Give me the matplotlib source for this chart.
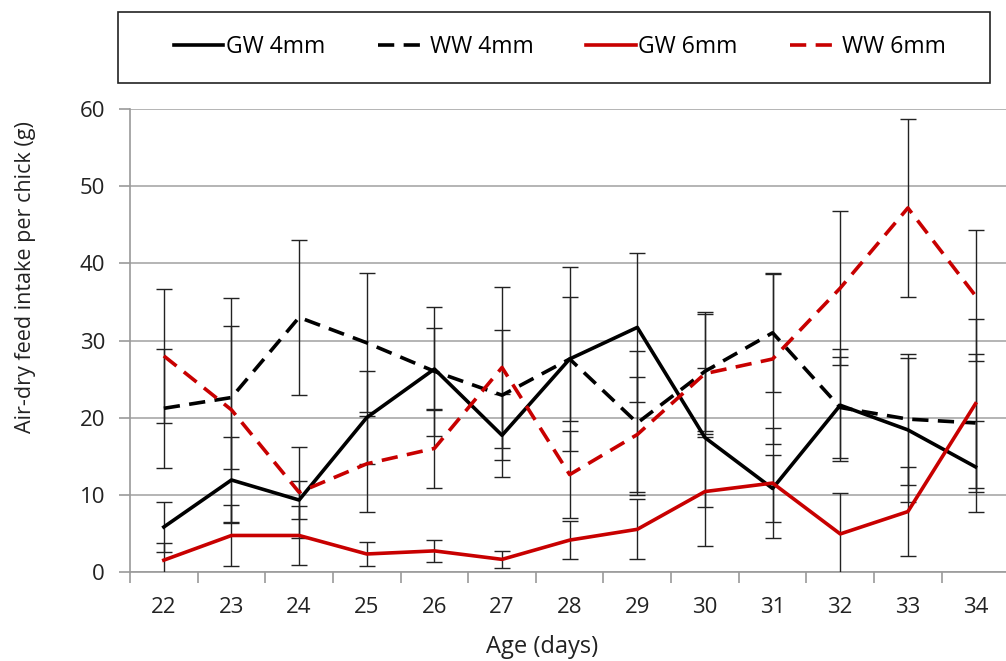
import matplotlib
matplotlib.use("Agg")
import matplotlib.pyplot as plt
from matplotlib.patches import Rectangle

plt.rcParams['font.family'] = ['Open Sans', 'DejaVu Sans']

ages = [22, 23, 24, 25, 26, 27, 28, 29, 30, 31, 32, 33, 34]
gw4 = [5.8, 11.9, 9.3, 20.0, 26.3, 17.7, 27.6, 31.7, 17.4, 10.8, 21.6, 18.4, 13.6]
gw4_err = [3.2, 5.6, 2.5, 6.0, 5.3, 5.4, 12.0, 9.7, 9.0, 4.4, 7.3, 9.3, 5.9]
ww4 = [21.2, 22.6, 33.0, 29.7, 26.0, 22.9, 27.6, 19.3, 26.0, 31.0, 21.3, 19.8, 19.3]
ww4_err = [7.7, 9.3, 10.1, 9.0, 8.4, 8.4, 8.0, 9.4, 7.7, 7.7, 6.6, 8.5, 9.0]
gw6 = [1.5, 4.7, 4.7, 2.3, 2.7, 1.6, 4.1, 5.5, 10.4, 11.5, 4.9, 7.8, 21.8]
gw6_err = [2.2, 4.0, 3.8, 1.6, 1.4, 1.1, 2.5, 3.9, 7.1, 7.1, 5.3, 5.8, 11.0]
ww6 = [28.0, 21.0, 10.3, 14.0, 16.0, 26.5, 12.6, 17.8, 25.7, 27.6, 36.8, 47.2, 35.8]
ww6_err = [8.7, 14.5, 5.9, 6.2, 5.1, 10.5, 5.6, 7.5, 7.8, 11.0, 10.0, 11.5, 8.5]

labels = ["GW 4mm", "WW 4mm", "GW 6mm", "WW 6mm"]
RED = "#c80000"
TXT = "#222222"

W, H = 1006, 661
fig = plt.figure(figsize=(W / 100, H / 100), dpi=100)
left, right, top, bottom = 130, 1006, 109.3, 571.7
ax = fig.add_axes([left / W, 1 - bottom / H, (right - left) / W, (bottom - top) / H])

series = [
    (gw4, gw4_err, "black", "-"),
    (ww4, ww4_err, "black", "--"),
    (gw6, gw6_err, RED, "-"),
    (ww6, ww6_err, RED, "--"),
]
handles = []
for (vals, err, col, ls), lab in zip(series, labels):
    ax.errorbar(ages, vals, yerr=err, fmt="none", ecolor="#222222",
                elinewidth=1.0, capsize=6, capthick=1.0, zorder=3)
    line, = ax.plot(ages, vals, color=col, lw=2.6, linestyle=ls, label=lab, zorder=4)
    if ls == "--":
        line.set_dashes((4.5, 2.6))
    handles.append(line)

step = (976.7 - 165) / 12
ax.set_xlim(21.5, 21.5 + (right - left) / step)
ax.set_ylim(0, 60)
ax.set_yticks(range(0, 61, 10))
ax.set_xticks(ages)
ax.set_xticks([a + 0.5 for a in ages[:-1]] + [21.5], minor=True)
ax.tick_params(axis="x", which="major", length=0, pad=18, labelsize=16, colors=TXT)
ax.tick_params(axis="x", which="minor", length=8, width=1.2, color="#9a9a9a", direction="out")
ax.tick_params(axis="y", length=8, width=1.2, color="#9a9a9a", pad=10, labelsize=16, labelcolor=TXT)
ax.grid(axis="y", color="#a8a8a8", lw=1.2)
ax.set_axisbelow(True)
for s in ["top", "right"]:
    ax.spines[s].set_visible(False)
for s in ["left", "bottom"]:
    ax.spines[s].set_color("#9a9a9a")
    ax.spines[s].set_linewidth(1.2)

fig.text(26 / W, 1 - 277.5 / H, "Air-dry feed intake per chick (g)", rotation=90,
         ha="center", va="center", fontsize=15.5, color=TXT)
fig.text(542 / W, 1 - 647 / H, "Age (days)", ha="center", va="center",
         fontsize=17, color=TXT)

# legend box
fig.patches.append(Rectangle((118 / W, 1 - 83 / H), (990 - 118) / W, (83 - 12) / H,
                             transform=fig.transFigure, facecolor="white",
                             edgecolor="#222222", lw=1.2))
fig.legend(handles=handles, labels=labels, loc="center", ncol=4,
           bbox_to_anchor=(560 / W, 1 - 47 / H), frameon=False, fontsize=16.5,
           handlelength=2.15, handletextpad=0.12, columnspacing=2.3)

fig.savefig("out.png", dpi=100, facecolor="white")
